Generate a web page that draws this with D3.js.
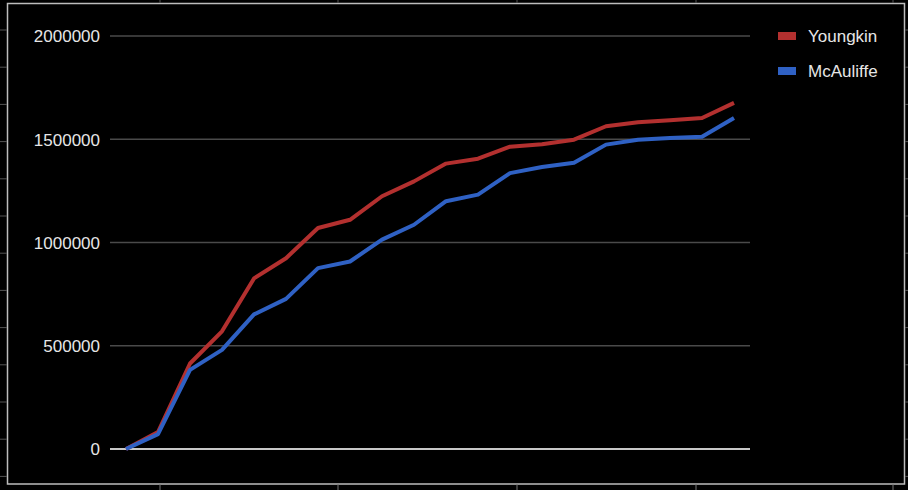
<!DOCTYPE html>
<html>
<head>
<meta charset="utf-8">
<script src="https://cdn.jsdelivr.net/npm/d3@7/dist/d3.min.js"></script>
<style>
  html, body { margin: 0; padding: 0; background: #000; }
  svg { display: block; }
  text { font-family: Arial, "Liberation Sans", sans-serif; }
</style>
</head>
<body>
<svg id="chart" width="908" height="490"></svg>
<script>
// ---- data ----
const categories = ["1","2","3","4","5","6","7","8","9","10","11","12","13","14","15","16","17","18","19","20"];
const youngkin  = [0, 82000, 414000, 570000, 826000, 924000, 1070000, 1110000, 1224000, 1296000, 1382000, 1406000, 1464000, 1476000, 1498000, 1563000, 1582000, 1592000, 1603000, 1676000];
const mcauliffe = [0, 72000, 383000, 480000, 652000, 727000, 876000, 908000, 1014000, 1086000, 1200000, 1232000, 1336000, 1366000, 1386000, 1474000, 1498000, 1506000, 1512000, 1603000];
const seriesNames = ["Youngkin", "McAuliffe"];
const seriesColors = ["#b3302f", "#2f61c4"];
const yTicks = [0, 500000, 1000000, 1500000, 2000000];

const svg = d3.select("#chart");
const W = 908, H = 490;

// ---- frame decoration (spreadsheet border) ----
const frame = svg.append("g").attr("stroke", "#bdbdbd").attr("fill", "none");
frame.append("rect").attr("x", 7.5).attr("y", 3.5).attr("width", 897).attr("height", 480.5).attr("stroke-width", 1.5);
const rowTicks = d3.range(0, 13).map(k => 30 + 37.2 * k);
rowTicks.forEach(y => {
  frame.append("line").attr("x1", 0).attr("x2", 7).attr("y1", y).attr("y2", y).attr("stroke", "#555");
  frame.append("line").attr("x1", 905).attr("x2", 908).attr("y1", y).attr("y2", y).attr("stroke", "#555");
});
[160, 338, 517, 696, 893].forEach(x => {
  frame.append("line").attr("x1", x).attr("x2", x).attr("y1", 484).attr("y2", 490).attr("stroke", "#777");
  frame.append("line").attr("x1", x).attr("x2", x).attr("y1", 0).attr("y2", 3).attr("stroke", "#555");
});

// ---- scales ----
const x = d3.scalePoint().domain(categories).range([110, 750]).padding(0.5);
const y = d3.scaleLinear().domain([0, 2000000]).range([449, 36]);

// ---- gridlines ----
const grid = svg.append("g");
grid.selectAll("line").data(yTicks).join("line")
  .attr("x1", 110).attr("x2", 750)
  .attr("y1", d => y(d)).attr("y2", d => y(d))
  .attr("stroke", d => d === 0 ? "#c8c8c8" : "#4a4a4a")
  .attr("stroke-width", d => d === 0 ? 2 : 1.5);

// ---- y axis labels ----
const yAxis = d3.axisLeft(y).tickValues(yTicks).tickSize(0).tickPadding(0).tickFormat(d3.format("d"));
const ya = svg.append("g").attr("transform", "translate(100,0)").call(yAxis);
ya.select(".domain").remove();
ya.selectAll("text").attr("fill", "#e6e6e6").attr("font-size", 17).attr("dy", "0.35em")
  .attr("font-family", "Arial, 'Liberation Sans', sans-serif");

// ---- lines ----
const allSeries = [youngkin, mcauliffe];
const line = d3.line().x((d, i) => x(categories[i])).y(d => y(d));
allSeries.forEach((s, k) => {
  svg.append("path").datum(s)
    .attr("d", line)
    .attr("fill", "none")
    .attr("stroke", seriesColors[k])
    .attr("stroke-width", 4)
    .attr("stroke-linejoin", "round");
});
// redraw blue over red is default order; keep red first then blue

// ---- legend ----
const legend = svg.append("g").attr("transform", "translate(778,36)");
seriesNames.forEach((name, k) => {
  const g = legend.append("g").attr("transform", `translate(0,${k * 35})`);
  g.append("rect").attr("x", 0).attr("y", -4).attr("width", 18).attr("height", 8).attr("fill", seriesColors[k]);
  g.append("text").attr("x", 30).attr("y", 0).attr("dy", "0.35em")
    .attr("fill", "#e6e6e6").attr("font-size", 17).text(name);
});
</script>
</body>
</html>
